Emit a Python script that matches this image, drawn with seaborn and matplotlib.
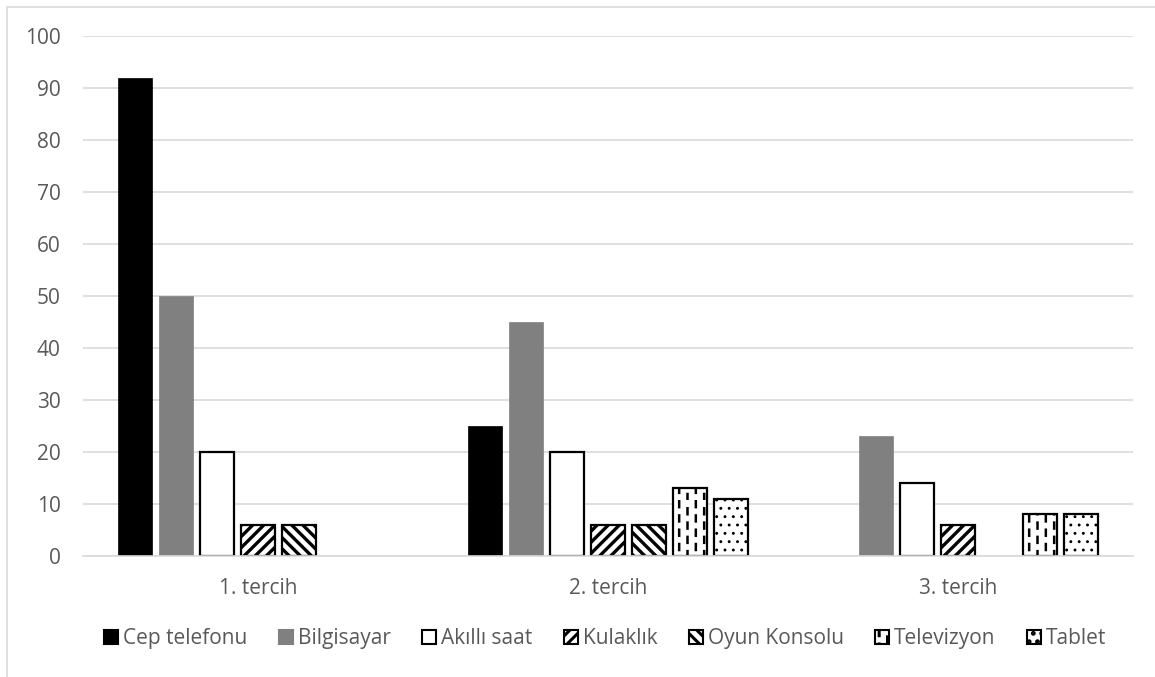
import matplotlib
matplotlib.use("Agg")
import matplotlib.pyplot as plt
import matplotlib.hatch as mhatch
from matplotlib.path import Path
import seaborn as sns
import pandas as pd
import numpy as np
from matplotlib.patches import Rectangle, Patch

categories = ["1. tercih", "2. tercih", "3. tercih"]
series = ["Cep telefonu", "Bilgisayar", "Akıllı saat", "Kulaklık",
          "Oyun Konsolu", "Televizyon", "Tablet"]
cep_telefonu = [92, 25, 0]
bilgisayar = [50, 45, 23]
akilli_saat = [20, 20, 14]
kulaklik = [6, 6, 6]
oyun_konsolu = [6, 6, 0]
televizyon = [0, 13, 8]
tablet = [0, 11, 8]
yticks = [0, 10, 20, 30, 40, 50, 60, 70, 80, 90, 100]


# dashed vertical hatch (replaces the plain '|' hatch)
class DashedVerticalHatch(mhatch.HatchPatternBase):
    def __init__(self, hatch, density):
        self.num_lines = int(hatch.count('|') * density * 2)
        self.num_dashes = 7
        self.num_vertices = self.num_lines * self.num_dashes * 2

    def set_vertices_and_codes(self, vertices, codes):
        xs = np.linspace(0.0, 1.0, self.num_lines, False) + 0.5 / self.num_lines
        per = 1.0 / self.num_dashes
        k = 0
        for i, x in enumerate(xs):
            off = (i % 2) * per / 2
            for j in range(self.num_dashes):
                y0 = j * per + off
                vertices[k] = (x, y0)
                vertices[k + 1] = (x, y0 + per * 0.42)
                codes[k] = Path.MOVETO
                codes[k + 1] = Path.LINETO
                k += 2


mhatch._hatch_types[:] = [DashedVerticalHatch if t is mhatch.VerticalHatch else t
                          for t in mhatch._hatch_types]

values = [cep_telefonu, bilgisayar, akilli_saat, kulaklik, oyun_konsolu, televizyon, tablet]
rows = []
for s, vals in zip(series, values):
    for c, v in zip(categories, vals):
        rows.append({"cat": c, "series": s, "value": v})
df = pd.DataFrame(rows)

sns.set_theme(style="white")
plt.rcParams['font.family'] = ['Open Sans', 'DejaVu Sans']
plt.rcParams['hatch.linewidth'] = 2.2
plt.rcParams['hatch.color'] = 'black'

faces = ["black", "#808080", "white", "white", "white", "white", "white"]
edges = ["black", "#808080", "black", "black", "black", "black", "black"]
hatches = [None, None, None, "///", "\\\\\\", "|", ".."]
hatch_lw = [None, None, None, 2.4, 2.4, 1.8, 0.9]
palette = dict(zip(series, faces))


def style_hatch(p, si):
    if hatches[si]:
        p.set_hatch(hatches[si])
        if hasattr(p, "set_hatch_linewidth"):
            p.set_hatch_linewidth(hatch_lw[si])
        else:
            p._hatch_linewidth = hatch_lw[si]


fig = plt.figure(figsize=(11.55, 6.77), dpi=100)
ax = fig.add_axes([0.0719, 0.1787, 0.909, 0.768])

sns.barplot(data=df, x="cat", y="value", hue="series", order=categories,
            hue_order=series, palette=palette, width=0.82, gap=0.17,
            legend=False, ax=ax, saturation=1)

n = len(categories)
for i, p in enumerate(ax.patches):
    si = i // n
    p.set_facecolor(faces[si])
    p.set_edgecolor(edges[si])
    p.set_linewidth(1.6 if si >= 2 else 0.5)
    style_hatch(p, si)
    if p.get_height() == 0:
        p.set_visible(False)

ax.set_ylim(0, 100)
ax.set_xlim(-0.5, 2.5)
ax.set_yticks(yticks)
ax.set_yticklabels([str(t) for t in yticks])
ax.yaxis.grid(True, color="#d9d9d9", linewidth=1.2)
ax.set_axisbelow(True)
for side in ["top", "right", "left"]:
    ax.spines[side].set_visible(False)
ax.spines["bottom"].set_color("#d9d9d9")
ax.spines["bottom"].set_linewidth(1.2)
ax.tick_params(axis="both", length=0, labelsize=15, labelcolor="#595959")
ax.tick_params(axis="x", pad=16)
ax.tick_params(axis="y", pad=16)
ax.set_xlabel("")
ax.set_ylabel("")

handles = []
for si, (s, fc, ec, h) in enumerate(zip(series, faces, edges, hatches)):
    hp = Patch(facecolor=fc, edgecolor="black" if fc == "white" else fc,
               linewidth=1.5, label=s)
    style_hatch(hp, si)
    handles.append(hp)
leg = fig.legend(handles=handles, loc="center", bbox_to_anchor=(0.524, 0.057),
                 ncol=7, frameon=False, fontsize=15, handlelength=0.67,
                 handleheight=0.67, handletextpad=0.25, columnspacing=1.5)
for t in leg.get_texts():
    t.set_color("#595959")

border = Rectangle((7 / 1155, -0.1), 1.2, 1 - 7 / 677 + 0.1, transform=fig.transFigure,
                   fill=False, edgecolor="#d9d9d9", linewidth=1.2)
fig.patches.append(border)

fig.savefig("out.png", dpi=100)
